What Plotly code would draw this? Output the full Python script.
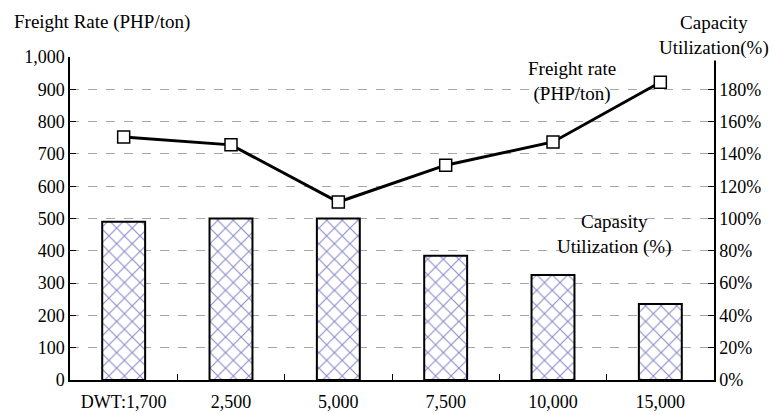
import plotly.graph_objects as go

# Ship size classes (DWT)
categories = ["DWT:1,700", "2,500", "5,000", "7,500", "10,000", "15,000"]
# Capacity utilization (fraction)
capacity_util = [0.98, 1.00, 1.00, 0.77, 0.65, 0.47]
# Freight rate (PHP/ton)
freight_rate = [752, 728, 551, 665, 737, 922]

pct_ticks = [0, 0.2, 0.4, 0.6, 0.8, 1.0, 1.2, 1.4, 1.6, 1.8]
rate_ticks = [0, 100, 200, 300, 400, 500, 600, 700, 800, 900, 1000]

FONT = "Liberation Serif"

fig = go.Figure()

fig.add_trace(go.Bar(
    x=categories, y=capacity_util, yaxis="y", width=0.4,
    marker=dict(
        color="white",
        line=dict(color="black", width=2),
        pattern=dict(shape="x", size=11, solidity=0.2,
                     fgcolor="#1c1c96", bgcolor="white"),
    ),
    showlegend=False,
))

fig.add_trace(go.Scatter(
    x=categories, y=freight_rate, yaxis="y2", mode="lines+markers",
    line=dict(color="black", width=3),
    marker=dict(symbol="square", size=12, color="white",
                line=dict(color="black", width=1.5)),
    showlegend=False,
))

fig.update_layout(
    width=775, height=414,
    margin=dict(l=70, r=61, t=57, b=34),
    paper_bgcolor="white", plot_bgcolor="white",
    font=dict(family=FONT, size=18, color="black"),
    bargap=0.6,
    xaxis=dict(
        type="category", showline=True, linecolor="black", linewidth=1.5,
        ticks="inside", ticklen=6, tickcolor="black", tickson="boundaries",
        showgrid=False, ticklabelstandoff=5, automargin=False,
        tickfont=dict(family=FONT, size=18),
    ),
    yaxis=dict(
        side="right", range=[0, 2.0], tickvals=pct_ticks, tickformat=".0%",
        showline=True, linecolor="black", linewidth=1.5,
        ticks="inside", ticklen=6, tickcolor="black",
        showgrid=False, zeroline=False, automargin=False,
        tickfont=dict(family=FONT, size=18),
    ),
    yaxis2=dict(
        overlaying="y", side="left", range=[0, 1000], tickvals=rate_ticks,
        tickformat=",d",
        showline=True, linecolor="black", linewidth=1.5,
        ticks="inside", ticklen=6, tickcolor="black",
        showgrid=True, gridcolor="#a6a6a6", gridwidth=1.2, griddash="dash",
        zeroline=False, automargin=False,
        tickfont=dict(family=FONT, size=18),
    ),
    annotations=[
        dict(text="Freight Rate (PHP/ton)", xref="paper", yref="paper",
             x=-0.09, y=1.108, xanchor="left", yanchor="middle",
             showarrow=False, font=dict(family=FONT, size=19)),
        dict(text="Capacity<br>Utilization(%)", xref="paper", yref="paper",
             x=1.0, y=1.068, xanchor="center", yanchor="middle",
             showarrow=False, bgcolor="white",
             font=dict(family=FONT, size=19)),
        dict(text="Freight rate<br>(PHP/ton)", xref="paper", yref="paper",
             x=0.779, y=0.923, xanchor="center", yanchor="middle",
             showarrow=False, font=dict(family=FONT, size=19)),
        dict(text="Capasity<br>Utilization (%)", xref="paper", yref="paper",
             x=0.846, y=0.452, xanchor="center", yanchor="middle",
             showarrow=False, font=dict(family=FONT, size=19)),
    ],
)

fig.write_html("out.html")
